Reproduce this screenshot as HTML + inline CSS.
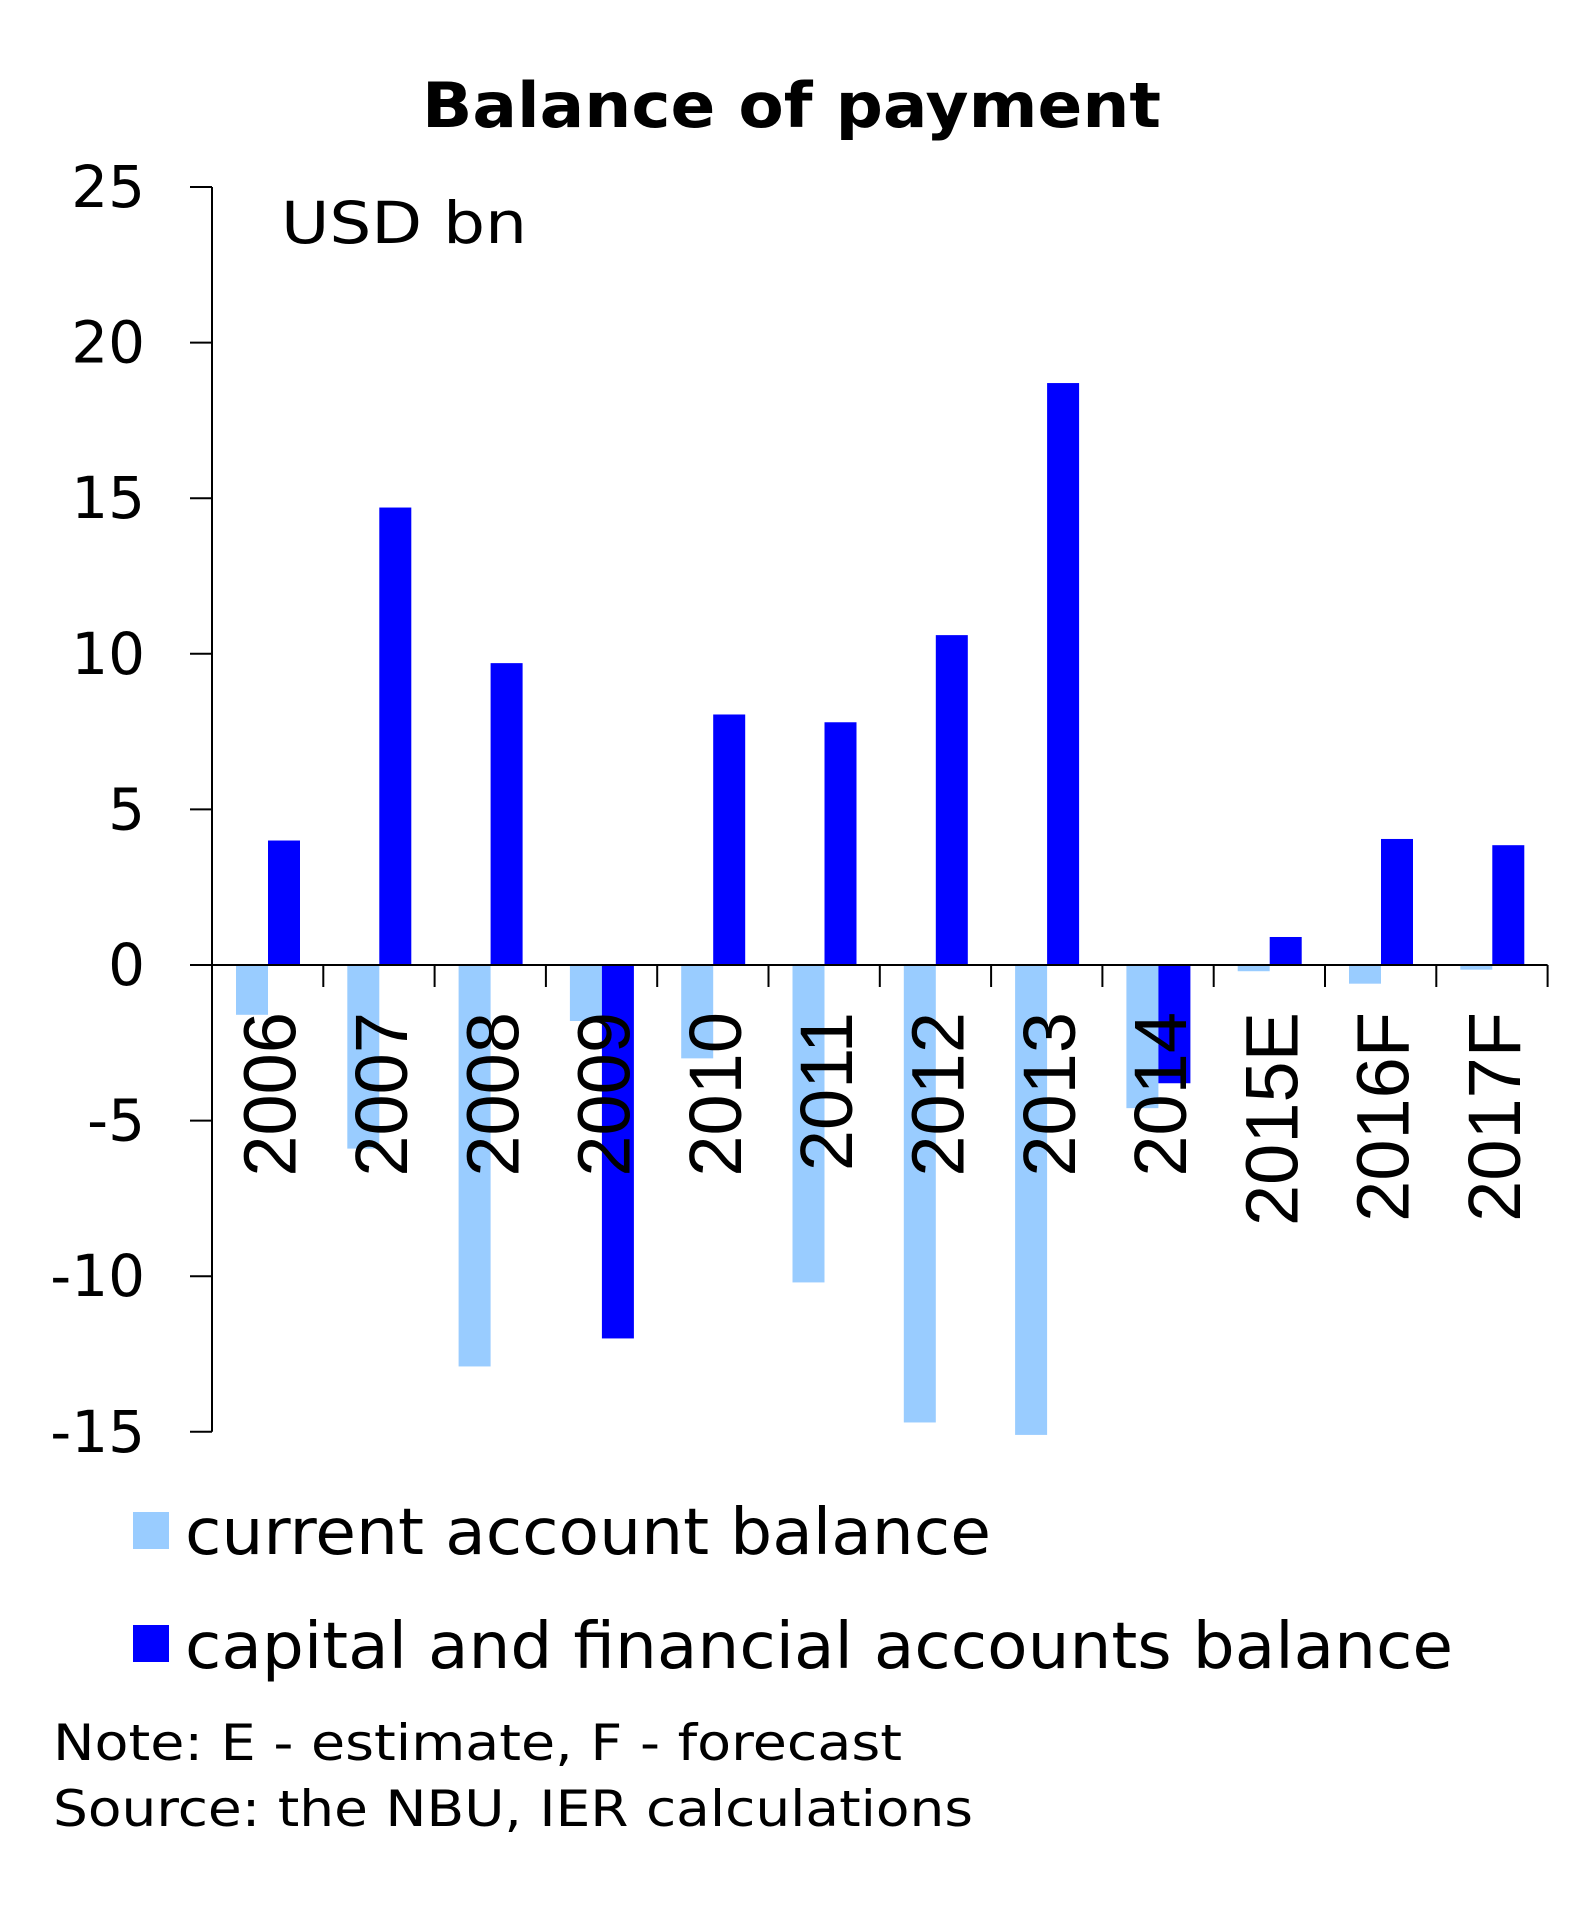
<!DOCTYPE html>
<html><head><meta charset="utf-8"><style>
html,body{margin:0;padding:0;background:#fff;}
svg{display:block;}
</style></head><body>
<svg id="chart" width="1582" height="1931" viewBox="0 0 1582 1931" xmlns="http://www.w3.org/2000/svg">
<text x="422" y="127" textLength="739" lengthAdjust="spacingAndGlyphs" font-family="DejaVu Sans, Liberation Sans, sans-serif" font-weight="bold" font-size="62">Balance of payment</text>
<text x="281" y="243" textLength="246" lengthAdjust="spacingAndGlyphs" font-family="DejaVu Sans, Liberation Sans, sans-serif" font-size="58">USD bn</text>
<g id="bars"></g>
<g id="axes"></g>
<rect x="133" y="1512" width="36" height="37" fill="#99ccff"/>
<text x="185" y="1554" textLength="806" lengthAdjust="spacingAndGlyphs" font-family="DejaVu Sans, Liberation Sans, sans-serif" font-size="64">current account balance</text>
<rect x="133" y="1625" width="36" height="37" fill="#0000ff"/>
<text x="185" y="1668" textLength="1268" lengthAdjust="spacingAndGlyphs" font-family="DejaVu Sans, Liberation Sans, sans-serif" font-size="64">capital and financial accounts balance</text>
<text x="53" y="1760" textLength="849" lengthAdjust="spacingAndGlyphs" font-family="DejaVu Sans, Liberation Sans, sans-serif" font-size="50">Note: E - estimate, F - forecast</text>
<text x="53" y="1826" textLength="920" lengthAdjust="spacingAndGlyphs" font-family="DejaVu Sans, Liberation Sans, sans-serif" font-size="50">Source: the NBU, IER calculations</text>
</svg>
<script>
const categories = ["2006","2007","2008","2009","2010","2011","2012","2013","2014","2015E","2016F","2017F"];
const currentAccount = [-1.6,-5.9,-12.9,-1.8,-3.0,-10.2,-14.7,-15.1,-4.6,-0.2,-0.6,-0.15];
const capitalAccount = [4.0,14.7,9.7,-12.0,8.05,7.8,10.6,18.7,-3.8,0.9,4.05,3.85];
const yTicks = [25,20,15,10,5,0,-5,-10,-15];
const yTickLabels = ["25","20","15","10","5","0","-5","-10","-15"];

const NS = "http://www.w3.org/2000/svg";
const x0 = 212, catW = 111.3, zeroY = 965, unit = 31.12;
function y(v){ return zeroY - v*unit; }
function xCat(i){ return x0 + i*catW; }
function mk(tag, attrs, parent){
  const e = document.createElementNS(NS, tag);
  for (const k in attrs) e.setAttribute(k, attrs[k]);
  parent.appendChild(e); return e;
}
const bars = document.getElementById("bars");
const axes = document.getElementById("axes");
const bw = 32, off = 24;
categories.forEach((c,i)=>{
  const v1 = currentAccount[i], v2 = capitalAccount[i];
  const r1 = mk("rect",{x:xCat(i)+off, y:Math.min(y(v1),y(0)), width:bw, height:Math.abs(y(v1)-y(0)), fill:"#99ccff"}, bars);
  
  
  const r2 = mk("rect",{x:xCat(i)+off+bw, y:Math.min(y(v2),y(0)), width:bw, height:Math.abs(y(v2)-y(0)), fill:"#0000ff"}, bars);
  
  
});
// y axis
const ya = mk("line",{x1:x0,y1:y(25),x2:x0,y2:y(-15),stroke:"#000","stroke-width":2}, axes);


yTicks.forEach((t,i)=>{
  const tl = mk("line",{x1:190,y1:y(t),x2:x0,y2:y(t),stroke:"#000","stroke-width":2}, axes);
  
  
  const tx = mk("text",{x:145,y:y(t)+20,"text-anchor":"end","font-family":"DejaVu Sans, Liberation Sans, sans-serif","font-size":58}, axes);
  tx.textContent = yTickLabels[i];
  
  
});
// x axis (zero line)
const xa = mk("line",{x1:190,y1:y(0),x2:xCat(categories.length),y2:y(0),stroke:"#000","stroke-width":2}, axes);


for (let i=1;i<=categories.length;i++){
  const tk = mk("line",{x1:xCat(i),y1:y(0),x2:xCat(i),y2:y(0)+22,stroke:"#000","stroke-width":2}, axes);
  
  
}
categories.forEach((c,i)=>{
  const cx = xCat(i) + catW/2 + 28;
  const ty = 1012;
  const t = mk("text",{x:cx,y:ty,"text-anchor":"end","font-family":"Liberation Sans, sans-serif","font-size":74,transform:"rotate(-90 "+cx+" "+ty+")"}, axes);
  t.textContent = c;
  
  
});
</script>
</body></html>
